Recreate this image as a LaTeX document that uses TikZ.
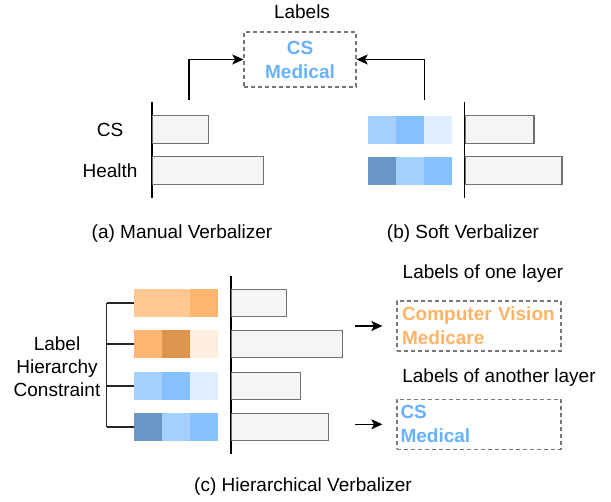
\documentclass[tikz,border=0pt]{standalone}
\usepackage{fontspec}
\setmainfont{Liberation Sans}
\usetikzlibrary{arrows.meta}

\definecolor{barfill}{HTML}{F5F5F5}
\definecolor{barline}{HTML}{707070}
\definecolor{boxline}{HTML}{777777}
\definecolor{txtblue}{HTML}{66B2FF}
\definecolor{txtorange}{HTML}{FFB366}
\definecolor{bluelight}{HTML}{A5CFFF}
\definecolor{bluemid}{HTML}{85C1FF}
\definecolor{bluepale}{HTML}{DFEEFF}
\definecolor{bluedark}{HTML}{6A95C4}
\definecolor{orangelight}{HTML}{FFC891}
\definecolor{orangemid}{HTML}{FFB570}
\definecolor{orangedark}{HTML}{DB954C}
\definecolor{orangepale}{HTML}{FFEEDD}

\tikzset{
	txt/.style={inner sep=0pt, font=\fontsize{19}{23}\selectfont},
	bar/.style={draw=barline, fill=barfill, line width=1.3pt, minimum height=27.5pt, inner sep=0pt, anchor=west},
	cell/.style={minimum width=28pt, minimum height=28pt, inner sep=0pt, anchor=west},
	lblbox/.style={draw=boxline, dash pattern=on 4pt off 3pt, line width=1.2pt, inner sep=0pt, font=\bfseries\fontsize{19}{24}\selectfont},
	axis/.style={line width=1.3pt},
	arr/.style={->,>={Stealth[length=11pt,width=10pt,inset=2.5pt]},line width=1.4pt},
	brk/.style={line width=1.3pt, draw=black!85}
}

\begin{document}
\begin{tikzpicture}[x=1pt,y=-1pt]
	\useasboundingbox (0,0) rectangle (611,502);

	%(a) manual verbalizer
	\node[txt] (labTitle) at (302,12) {Labels};
	\node[lblbox, minimum width=112pt, minimum height=55pt, text=txtblue, align=center] (labBox) at (300,59.5) {CS\\Medical};
	\draw[axis] (152,102)--(152,198);	%axis a
	\node[bar, minimum width=55.5pt]  (csBar) at (152,129.5) {};
	\node[bar, minimum width=110.5pt] (healthBar) at (152,170.5) {};
	\node[txt] (csTxt) at (110,129.5) {CS};
	\node[txt] (healthTxt) at (110,170.5) {Health};
	\coordinate (manStart) at (189,100);
	\draw[arr] (manStart) |- (labBox.west);
	\node[txt] (capA) at (182,234) {(a) Manual Verbalizer};

	%(b) soft verbalizer
	\node[cell, fill=bluelight] (sb11) at (368,130) {};
	\node[cell, fill=bluemid]   (sb12) at (395.7,130) {};
	\node[cell, fill=bluepale]  (sb13) at (423.3,130) {};
	\node[cell, fill=bluedark]  (sb21) at (368,171) {};
	\node[cell, fill=bluelight] (sb22) at (395.7,171) {};
	\node[cell, fill=bluemid]   (sb23) at (423.3,171) {};
	\draw[axis] (464.7,102)--(464.7,198);	%axis b
	\node[bar, minimum width=68.5pt] (softBar1) at (464.7,129.5) {};
	\node[bar, minimum width=96.5pt] (softBar2) at (464.7,170.5) {};
	\coordinate (softStart) at (424.3,100);
	\draw[arr] (softStart) |- (labBox.east);
	\node[txt] (capB) at (463,234) {(b) Soft Verbalizer};

	%(c) hierarchical verbalizer
	\node[cell, fill=orangelight] (hc11) at (134,303) {};
	\node[cell, fill=orangelight] (hc12) at (162,303) {};
	\node[cell, fill=orangemid]   (hc13) at (190,303) {};
	\node[cell, fill=orangemid]   (hc21) at (134,344) {};
	\node[cell, fill=orangedark]  (hc22) at (162,344) {};
	\node[cell, fill=orangepale]  (hc23) at (190,344) {};
	\node[cell, fill=bluelight]   (hc31) at (134,386) {};
	\node[cell, fill=bluemid]     (hc32) at (162,386) {};
	\node[cell, fill=bluepale]    (hc33) at (190,386) {};
	\node[cell, fill=bluedark]    (hc41) at (134,427) {};
	\node[cell, fill=bluelight]   (hc42) at (162,427) {};
	\node[cell, fill=bluemid]     (hc43) at (190,427) {};
	\draw[axis] (231,276)--(231,454);	%axis c
	\node[bar, minimum width=55pt]    (hBar1) at (231,303) {};
	\node[bar, minimum width=110.5pt] (hBar2) at (231,344) {};
	\node[bar, minimum width=69pt]    (hBar3) at (231,386) {};
	\node[bar, minimum width=97pt]    (hBar4) at (231,427) {};

	%hierarchy bracket
	\coordinate (brkTop) at (106.7,303);
	\coordinate (brkBot) at (106.7,427);
	\draw[brk] (brkTop)--(brkBot);
	\draw[brk] (brkTop)--(hc11.west);
	\draw[brk] (hc21.west -| brkTop)--(hc21.west);
	\draw[brk] (hc31.west -| brkTop)--(hc31.west);
	\draw[brk] (brkBot)--(hc41.west);
	\node[txt, align=center] (hierTxt) at (57,367) {Label\\Hierarchy\\Constraint};

	%label boxes
	\node[txt] (oneTxt) at (483,274) {Labels of one layer};
	\node[lblbox, minimum width=164pt, minimum height=50pt, text width=154pt, align=left, text=txtorange] (oneBox) at (479,326) {Computer Vision\\Medicare};
	\node[txt] (anoTxt) at (499,378) {Labels of another layer};
	\node[lblbox, minimum width=164pt, minimum height=50pt, text width=157pt, align=left, text=txtblue] (anoBox) at (479,424.3) {CS\\Medical};
	\draw[arr] ([xshift=-41pt]oneBox.west)--([xshift=-14pt]oneBox.west);
	\draw[arr] ([xshift=-41pt]anoBox.west)--([xshift=-14pt]anoBox.west);
	\node[txt] (capC) at (303,487) {(c) Hierarchical Verbalizer};
\end{tikzpicture}
\end{document}
